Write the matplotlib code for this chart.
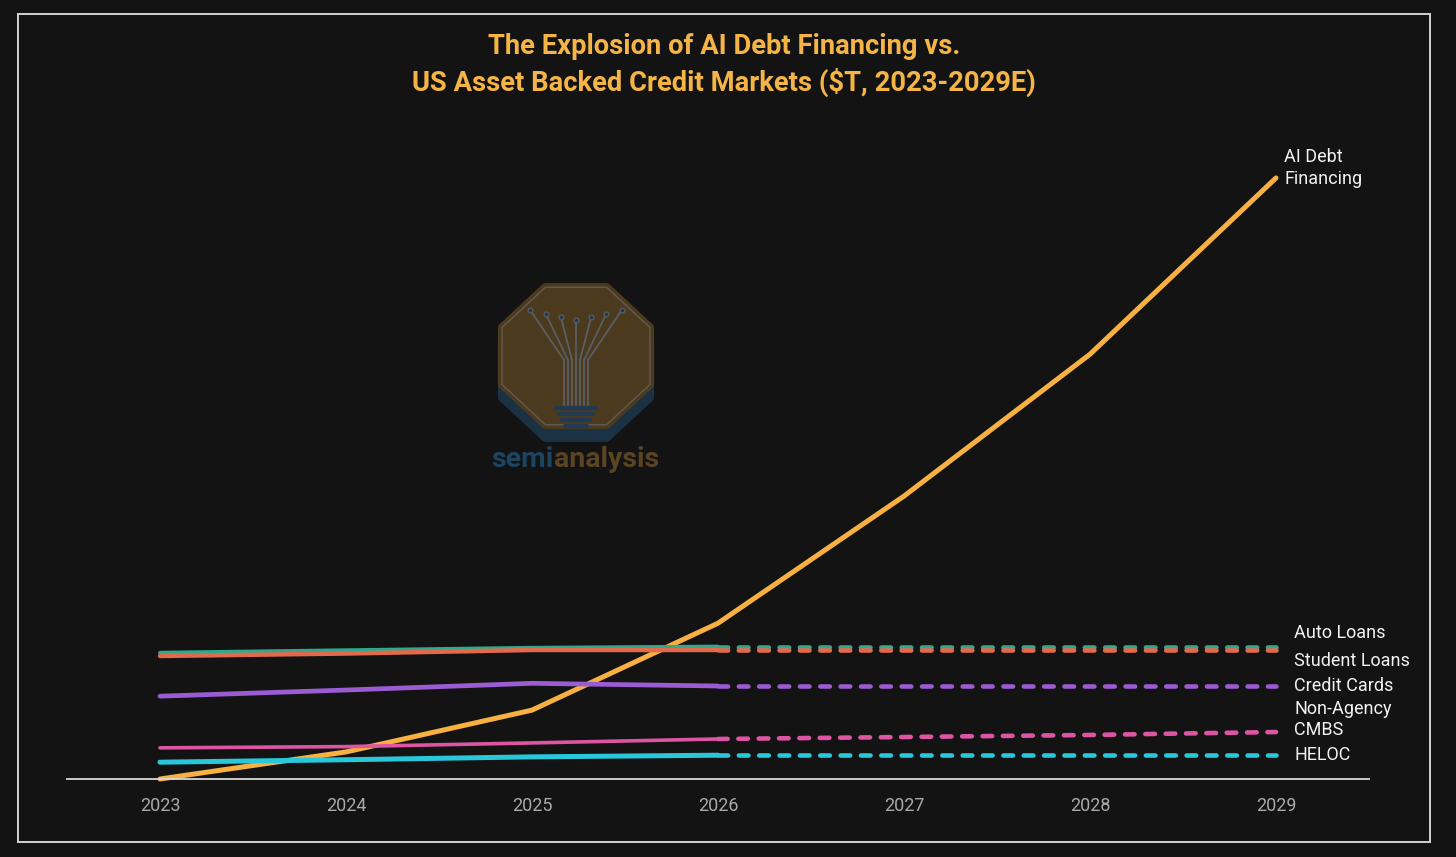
import numpy as np
import matplotlib
matplotlib.use('Agg')
import matplotlib.pyplot as plt
from matplotlib.patches import Rectangle, Polygon

# Data ($T)
years = [2023, 2024, 2025, 2026, 2027, 2028, 2029]
ai_debt = [0.0, 0.33, 0.84, 1.90, 3.45, 5.18, 7.33]

hist_years = [2023, 2024, 2025, 2026]
proj_years = [2026, 2027, 2028, 2029]

auto_loans_hist = [1.54, 1.57, 1.60, 1.615]
auto_loans_proj = [1.615, 1.615, 1.615, 1.615]
student_loans_hist = [1.50, 1.53, 1.573, 1.573]
student_loans_proj = [1.573, 1.573, 1.573, 1.573]
credit_cards_hist = [1.01, 1.085, 1.167, 1.134]
credit_cards_proj = [1.134, 1.134, 1.134, 1.134]
cmbs_hist = [0.38, 0.395, 0.44, 0.488]
cmbs_proj = [0.488, 0.512, 0.537, 0.573]
heloc_hist = [0.205, 0.235, 0.27, 0.29]
heloc_proj = [0.29, 0.29, 0.29, 0.29]

W, H = 1456, 857
BG = '#131313'

fig = plt.figure(figsize=(W / 100, H / 100), dpi=100, facecolor=BG)
plt.rcParams['font.family'] = ['Roboto', 'DejaVu Sans']


def fx(px):
    return px / W


def fy(py):
    return 1 - py / H


# outer frame
fig.patches.append(Rectangle((fx(18), fy(842)), fx(1430) - fx(18), fy(14) - fy(842),
                             transform=fig.transFigure, fill=False,
                             edgecolor='#d2d2d2', linewidth=1.4, zorder=0))

# title
title_color = '#F5B446'
fig.text(fx(724), fy(47), 'The Explosion of AI Debt Financing vs.', ha='center', va='center',
         fontsize=19.7, fontweight='bold', color=title_color)
fig.text(fx(724), fy(82), 'US Asset Backed Credit Markets ($T, 2023-2029E)', ha='center', va='center',
         fontsize=19.7, fontweight='bold', color=title_color)

# watermark logo
lax = fig.add_axes([fx(480), fy(480), fx(675) - fx(480), fy(275) - fy(480)])
lax.set_xlim(480, 675)
lax.set_ylim(480, 275)
lax.axis('off')
cx, cy, r = 576, 356, 80
ang = np.deg2rad(np.arange(8) * 45 + 22.5)
octo = np.column_stack([cx + r * np.cos(ang), cy + r * np.sin(ang) * 0.93])
shadow = octo + np.array([0, 13])
lax.add_patch(Polygon(shadow, closed=True, facecolor='#1b3144', edgecolor='#1b3144',
                      linewidth=6, joinstyle='round'))
lax.add_patch(Polygon(octo, closed=True, facecolor='#4c3a1f', edgecolor='#4c3a1f',
                      linewidth=6, joinstyle='round'))
lax.add_patch(Polygon(octo, closed=True, fill=False, edgecolor='#615b52',
                      linewidth=1.0, joinstyle='round'))
# circuit tree (decorative)
for dx in [-24, -16, -8, 0, 8, 16, 24]:
    lax.plot([cx + dx * 0.5, cx + dx * 0.5], [405, 360], color='#5b6168', lw=1.2)
    lax.plot([cx + dx * 0.5, cx + dx * 1.9], [360, 320 - abs(dx) * 0.4], color='#5b6168', lw=1.2)
    lax.plot(cx + dx * 1.9, 320 - abs(dx) * 0.4, 'o', ms=3.5, color='#23384a', mec='#5b6168', mew=0.8)
for i, yy in enumerate([408, 414, 420, 426]):
    half = 20 - i * 3
    lax.plot([cx - half, cx + half], [yy, yy], color='#1f3a52', lw=3, solid_capstyle='round')
lax.text(554, 460, 'semi', ha='right', va='center', fontsize=20.5, fontweight='bold', color='#1d4460')
lax.text(554, 460, 'analysis', ha='left', va='center', fontsize=20.5, fontweight='bold', color='#5a4424')

# main axes
ax_left, ax_right = 67, 1369
ax_bottom, ax_top = 779, 148
ax = fig.add_axes([fx(ax_left), fy(ax_bottom), fx(ax_right) - fx(ax_left), fy(ax_top) - fy(ax_bottom)])
ax.set_facecolor('none')
ax.set_xlim(2022.5, 2029.5)
ax.set_ylim(0, (ax_bottom - ax_top) / 82.0)

for s in ['top', 'right', 'left']:
    ax.spines[s].set_visible(False)
ax.spines['bottom'].set_color('#d8d8d8')
ax.spines['bottom'].set_linewidth(1.3)
ax.set_yticks([])
ax.set_xticks(years)
ax.set_xticklabels([str(y) for y in years])
ax.tick_params(axis='x', length=0, pad=13, labelsize=13, labelcolor='#a9a9a9')

dash = (0, (2.1, 2.34))

ax.plot(years, ai_debt, color='#F7B041', lw=3.6, solid_capstyle='round',
        solid_joinstyle='miter', clip_on=False, zorder=2)

series = [
    ('Auto Loans', auto_loans_hist, auto_loans_proj, '#2FA98A', 2.8, 10),
    ('Student Loans', student_loans_hist, student_loans_proj, '#E2694C', 3.2, -8),
    ('Credit Cards', credit_cards_hist, credit_cards_proj, '#9A5BD3', 3.4, 0),
    ('Non-Agency\nCMBS', cmbs_hist, cmbs_proj, '#DE55A4', 2.6, 9),
    ('HELOC', heloc_hist, heloc_proj, '#28C8DA', 3.6, 0),
]

for name, hist, proj, color, w_hist, off in series:
    ax.plot(hist_years, hist, color=color, lw=w_hist, solid_capstyle='round', zorder=3)
    ax.plot(proj_years, proj, color=color, lw=3.3, linestyle=dash,
            dash_capstyle='round', zorder=3)
    ax.annotate(name, xy=(proj_years[-1], proj[-1]), xytext=(13, off),
                textcoords='offset points', ha='left', va='center',
                fontsize=13, color='#f2f2f2', linespacing=1.25)

ax.annotate('AI Debt\nFinancing', xy=(years[-1], ai_debt[-1]), xytext=(6, 7),
            textcoords='offset points', ha='left', va='center',
            fontsize=13, color='#f2f2f2', linespacing=1.25)

plt.savefig('out.png', dpi=100, facecolor=BG)
